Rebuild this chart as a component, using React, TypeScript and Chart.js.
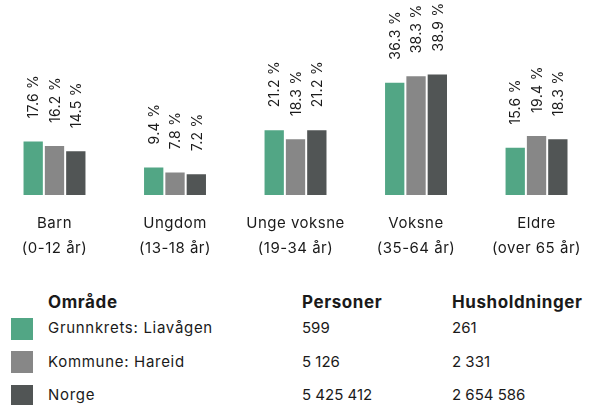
import React, { useEffect, useRef } from "react";
import { Chart, registerables } from "chart.js";

Chart.register(...registerables);

const categories: string[][] = [
  ["Barn", "(0-12 år)"],
  ["Ungdom", "(13-18 år)"],
  ["Unge voksne", "(19-34 år)"],
  ["Voksne", "(35-64 år)"],
  ["Eldre", "(over 65 år)"],
];
const seriesNames = ["Grunnkrets: Liavågen", "Kommune: Hareid", "Norge"];
const liavagen = [17.6, 9.4, 21.2, 36.3, 15.6];
const hareid = [16.2, 7.8, 18.3, 38.3, 19.4];
const norge = [14.5, 7.2, 21.2, 38.9, 18.3];
const colors = ["#52a685", "#878787", "#515555"];
const personer = ["599", "5 126", "5 425 412"];
const husholdninger = ["261", "2 331", "2 654 586"];

const FONT = "Inter, 'Open Sans', sans-serif";

const spacing = {
  id: "spacing",
  beforeLayout(chart: any) {
    chart.ctx.letterSpacing = "0.5px";
  },
  beforeDraw(chart: any) {
    chart.ctx.letterSpacing = "0.5px";
  },
};

const valueLabels = {
  id: "valueLabels",
  afterDatasetsDraw(chart: any) {
    const ctx = chart.ctx;
    ctx.save();
    ctx.fillStyle = "#1a1a1a";
    ctx.font = `14px ${FONT}`;
    ctx.letterSpacing = "0.3px";
    ctx.textAlign = "left";
    ctx.textBaseline = "middle";
    chart.data.datasets.forEach((ds: any, di: number) => {
      const meta = chart.getDatasetMeta(di);
      meta.data.forEach((bar: any, i: number) => {
        const v = ds.data[i];
        ctx.save();
        ctx.translate(bar.x + 1, bar.y - 22);
        ctx.rotate(-Math.PI / 2);
        ctx.fillText(`${v.toFixed(1)} %`, 0, 0);
        ctx.restore();
      });
    });
    ctx.restore();
  },
};

export default function App() {
  const ref = useRef<HTMLCanvasElement>(null);
  useEffect(() => {
    if (!ref.current) return;
    const chart = new Chart(ref.current, {
      type: "bar",
      data: {
        labels: categories,
        datasets: [liavagen, hareid, norge].map((d, i) => ({
          label: seriesNames[i],
          data: d,
          backgroundColor: colors[i],
          borderColor: "rgba(255,255,255,0.45)",
          borderWidth: 1,
          borderSkipped: false,
          barPercentage: 1,
          categoryPercentage: 65 / 122.5,
          clip: false as any,
        })),
      },
      options: {
        animation: false,
        responsive: false,
        maintainAspectRatio: false,
        devicePixelRatio: 1,
        layout: { padding: { left: 54.5, right: 51.5, top: 7, bottom: 10 } },
        plugins: { legend: { display: false }, tooltip: { enabled: false } },
        scales: {
          x: {
            offset: false,
            grid: { display: false, drawTicks: false },
            border: { display: false },
            ticks: {
              padding: 15,
              color: "#1a1a1a",
              maxRotation: 0,
              autoSkip: false,
              font: { family: FONT, size: 15, lineHeight: "25px" as any },
            },
          },
          y: { display: false, min: 0, max: 60 },
        },
      },
      plugins: [spacing, valueLabels],
    });
    return () => chart.destroy();
  }, []);

  const textStyle = (left: number, center: number, bold = false, num = false): React.CSSProperties => ({
    position: "absolute",
    left,
    top: center - 10,
    lineHeight: "20px",
    fontSize: bold ? 17 : 15,
    fontWeight: bold ? 700 : 400,
    letterSpacing: bold ? "0.6px" : num ? "0px" : "0.7px",
    color: "#1a1a1a",
    whiteSpace: "nowrap",
    fontFamily: FONT,
  });

  const rowCenters = [328, 362, 395];
  const swatchTops = [318, 351, 385];

  return (
    <div style={{ position: "fixed", left: 0, top: 0, width: 596, height: 405, background: "#fff", overflow: "hidden" }}>
      <canvas ref={ref} width={596} height={286} style={{ position: "absolute", left: 0, top: 0 }} />
      <div style={textStyle(48, 302, true)}>Område</div>
      <div style={textStyle(302, 302, true)}>Personer</div>
      <div style={textStyle(452, 302, true)}>Husholdninger</div>
      {seriesNames.map((n, i) => (
        <React.Fragment key={n}>
          <div style={{ position: "absolute", left: 11, top: swatchTops[i], width: 22, height: 22, background: colors[i] }} />
          <div style={textStyle(48, rowCenters[i])}>{n}</div>
          <div style={textStyle(302, rowCenters[i], false, true)}>{personer[i]}</div>
          <div style={textStyle(452, rowCenters[i], false, true)}>{husholdninger[i]}</div>
        </React.Fragment>
      ))}
    </div>
  );
}
